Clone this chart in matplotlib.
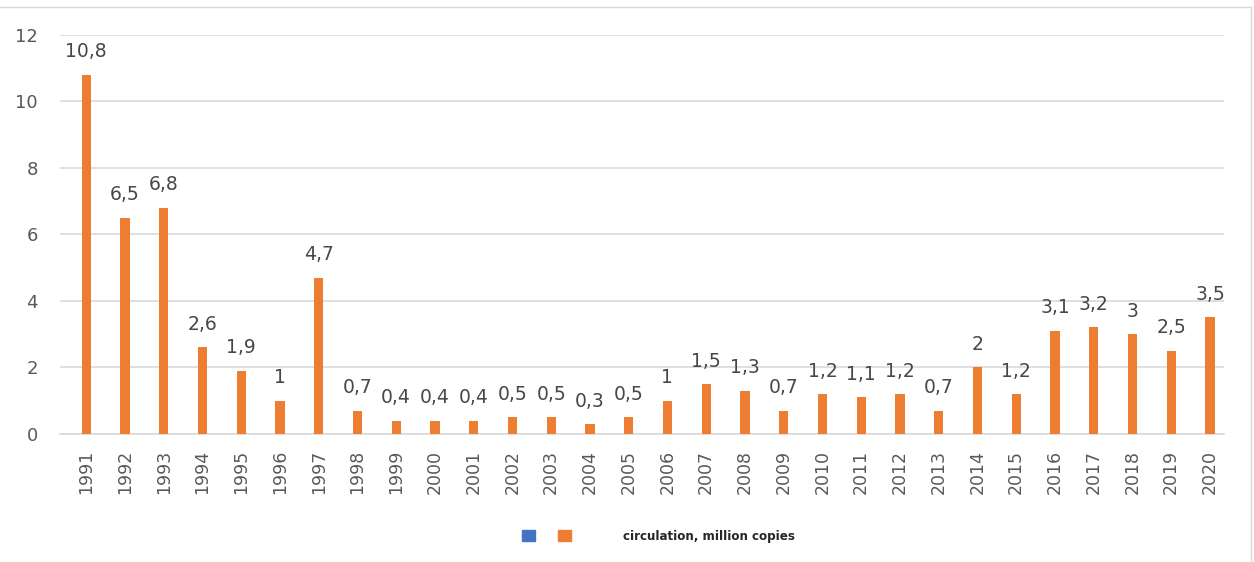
import matplotlib
matplotlib.use('Agg')
import matplotlib.pyplot as plt
from matplotlib.lines import Line2D
from matplotlib.patches import Patch

# Данные
years = [str(y) for y in range(1991, 2021)]
circulation = [10.8, 6.5, 6.8, 2.6, 1.9, 1.0, 4.7, 0.7, 0.4, 0.4,
               0.4, 0.5, 0.5, 0.3, 0.5, 1.0, 1.5, 1.3, 0.7, 1.2,
               1.1, 1.2, 0.7, 2.0, 1.2, 3.1, 3.2, 3.0, 2.5, 3.5]
series_label = 'circulation, million copies'

ORANGE = '#ED7D31'
BLUE = '#4472C4'
GREY_TEXT = '#595959'
GRID = '#D9D9D9'


def fmt(v):
    # запятая как десятичный разделитель
    s = ('%.1f' % v).rstrip('0').rstrip('.')
    return s.replace('.', ',')


fig = plt.figure(figsize=(12.54, 5.62), dpi=100)
ax = fig.add_axes([0.048, 0.228, 0.928, 0.71])

x = range(len(years))
ax.bar(x, circulation, width=0.24, color=ORANGE, zorder=3)

for xi, v in zip(x, circulation):
    ax.text(xi, v + 0.4, fmt(v), ha='center', va='bottom',
            fontsize=13.5, color='#474747')

ax.set_xlim(-0.67, len(years) - 0.64)
ax.set_ylim(0, 12)
ax.set_yticks(range(0, 13, 2))
ax.set_xticks(list(x))
ax.set_xticklabels(years, rotation=90, fontsize=12.5, color=GREY_TEXT)
ax.tick_params(axis='y', labelsize=13, labelcolor=GREY_TEXT, length=0, pad=16)
ax.tick_params(axis='x', length=0, pad=11.5)
ax.grid(axis='y', color=GRID, linewidth=1.2, zorder=0)
for side in ['top', 'right', 'left']:
    ax.spines[side].set_visible(False)
ax.spines['bottom'].set_color(GRID)
ax.spines['bottom'].set_linewidth(1.2)

# легенда
handles = [Patch(color=BLUE), Patch(color=ORANGE)]
leg = fig.legend(handles, ['', series_label], loc='center',
                 bbox_to_anchor=(0.525, 0.046), ncol=2, frameon=False,
                 handlelength=1.1, handleheight=1.1, columnspacing=-2.4,
                 handletextpad=4.3, prop={'size': 8.6, 'weight': 'bold'})
for t in leg.get_texts():
    t.set_color('#262626')

# рамка
fig.add_artist(Line2D([0, 0.998], [0.988, 0.988], color=GRID, linewidth=1))
fig.add_artist(Line2D([0.998, 0.998], [0, 0.988], color=GRID, linewidth=1))

fig.savefig('out.png', dpi=100)
